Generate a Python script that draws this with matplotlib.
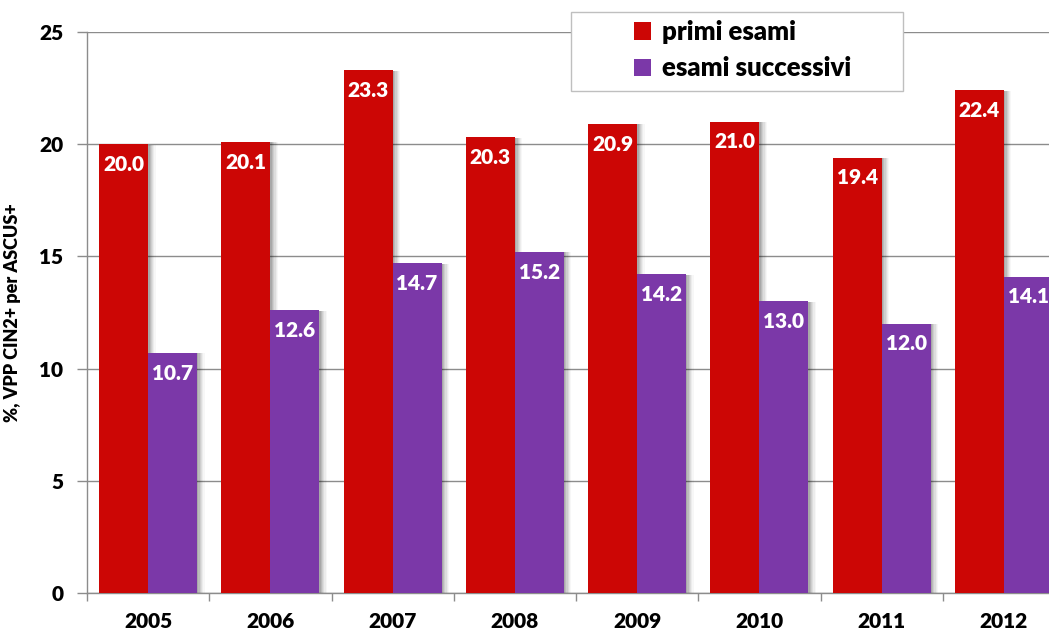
import matplotlib
matplotlib.use("Agg")
import matplotlib.pyplot as plt
from matplotlib.patches import Rectangle
import numpy as np

years = ["2005", "2006", "2007", "2008", "2009", "2010", "2011", "2012"]
primi = [20.0, 20.1, 23.3, 20.3, 20.9, 21.0, 19.4, 22.4]
successivi = [10.7, 12.6, 14.7, 15.2, 14.2, 13.0, 12.0, 14.1]
series_names = ["primi esami", "esami successivi"]

RED = "#CC0605"
PURPLE = "#7B38A8"
GRID = "#8C8C8C"
FONT = ["Lato", "DejaVu Sans"]
W = "heavy"

plt.rcParams["font.family"] = FONT

fig = plt.figure(figsize=(10.49, 6.33), dpi=100)
ax = fig.add_axes([87/1049, 40/633, 978/1049, 561/633])

x = np.arange(len(years))
w = 0.4

# soft shadows
for k in range(6):
    off = 0.012 + k * 0.01
    alpha = 0.10 - k * 0.014
    for vals, pos in ((primi, x - w/2), (successivi, x + w/2)):
        ax.bar(pos + off, np.array(vals) - 0.02, width=w, color="black",
               alpha=alpha, zorder=2, linewidth=0)

b1 = ax.bar(x - w/2, primi, width=w, color=RED, zorder=3, label=series_names[0], linewidth=0)
b2 = ax.bar(x + w/2, successivi, width=w, color=PURPLE, zorder=3, label=series_names[1], linewidth=0)

for bars, vals in ((b1, primi), (b2, successivi)):
    for r, v in zip(bars, vals):
        ax.annotate(f"{v:.1f}", (r.get_x() + r.get_width()/2, v),
                    xytext=(0, -14.5), textcoords="offset points",
                    ha="center", va="center", color="white",
                    fontsize=15, fontweight=W, zorder=5)

ax.set_xlim(-0.5, len(years) - 0.5)
ax.set_ylim(0, 25)
ax.set_yticks([0, 5, 10, 15, 20, 25])
ax.yaxis.grid(True, color=GRID, linewidth=1.0, zorder=0)
ax.set_axisbelow(True)

ax.set_xticks(x)
ax.set_xticklabels(years, fontsize=15, fontweight=W)
ax.set_xticks(np.arange(len(years) + 1) - 0.5, minor=True)
ax.tick_params(axis="x", which="major", length=0, pad=14)
ax.tick_params(axis="x", which="minor", length=6, color=GRID, width=1)
ax.tick_params(axis="y", length=7, color=GRID, width=1, labelsize=15, pad=10)
for lab in ax.get_yticklabels():
    lab.set_fontweight(W)

for s in ("top", "right"):
    ax.spines[s].set_visible(False)
for s in ("left", "bottom"):
    ax.spines[s].set_color(GRID)
    ax.spines[s].set_linewidth(1)

ax.set_ylabel("%, VPP CIN2+ per ASCUS+", fontsize=13, fontweight=W, labelpad=13)

# legend frame
frame = Rectangle((571/1049, 1 - 91/633), (903-571)/1049, (91-12)/633,
                  transform=fig.transFigure, facecolor="white",
                  edgecolor="#BFBFBF", linewidth=1, zorder=9)
fig.patches.append(frame)

leg = fig.legend(handles=[b1, b2], loc="upper left",
                 bbox_to_anchor=(634/1049, 1 - 20/633),
                 prop={"size": 18.5, "weight": W},
                 frameon=False,
                 handlelength=0.65, handleheight=0.65, handletextpad=0.45,
                 borderpad=0.0, labelspacing=0.48, borderaxespad=0)
leg.set_zorder(10)

fig.savefig("out.png", dpi=100)
